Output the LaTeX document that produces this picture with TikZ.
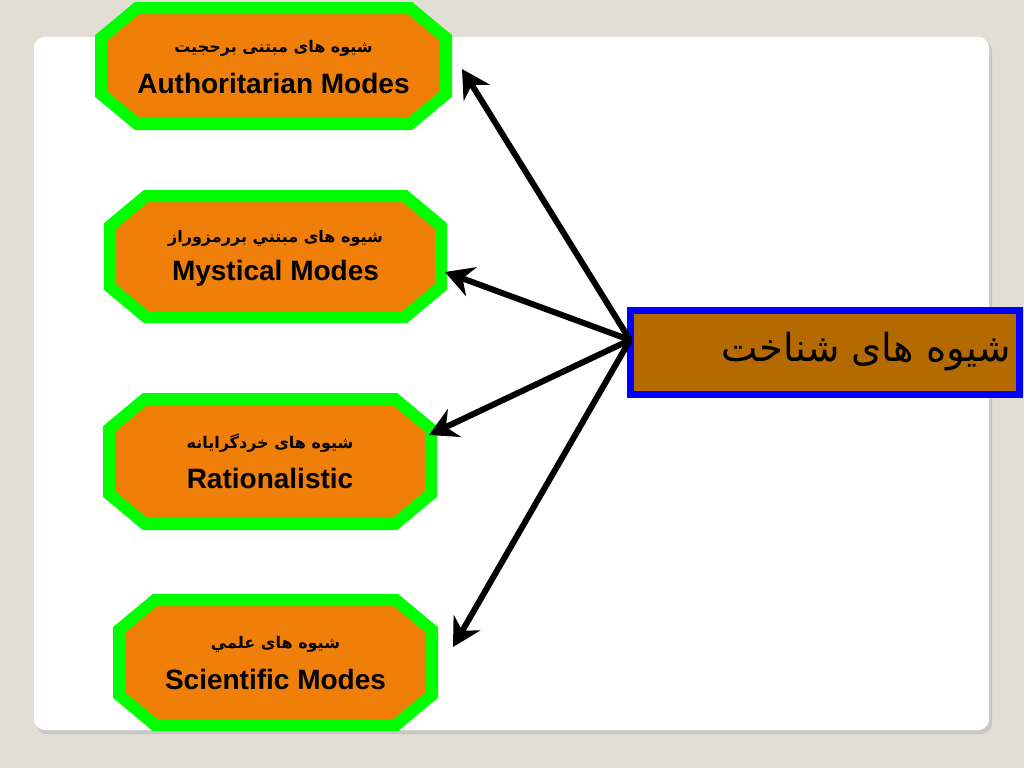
\documentclass[tikz,border=0pt]{standalone}
\usepackage{fontspec}
\setmainfont{Liberation Sans}
\newfontfamily\fa[Script=Arabic]{DejaVu Sans}
\TeXXeTstate=1
\usetikzlibrary{arrows.meta}
\definecolor{bgbeige}{RGB}{226,222,213}
\definecolor{modegreen}{RGB}{0,255,0}
\definecolor{modeorange}{RGB}{240,127,10}
\definecolor{hubbrown}{RGB}{180,106,0}
\definecolor{hubblue}{RGB}{0,0,255}
\tikzset{
  modeshape/.style={draw=modegreen, fill=modeorange, line width=9pt, line join=miter},
  entext/.style={font=\bfseries\fontsize{21}{24}\selectfont, inner sep=0pt},
  fatext/.style={font=\fa\bfseries\fontsize{12}{14}\selectfont, inner sep=0pt},
  hubbox/.style={draw=hubblue, fill=hubbrown, line width=5.25pt, minimum width=291.75pt, minimum height=63pt, inner sep=0pt},
  hubtext/.style={font=\fa\fontsize{29}{34}\selectfont, inner sep=0pt},
  link/.style={line width=4.5pt, -{Stealth[length=21pt, width=23pt, inset=7pt]}},
}
\newcommand\modebox[7]{% name, cx, cy, hw, hh, persian, english
  \pgfmathsetmacro\mbw{#4-6}\pgfmathsetmacro\mbh{#5-6}%
  \draw[modeshape] ({#2-\mbw},{#3-\mbh+30}) -- ({#2-\mbw+36},{#3-\mbh}) -- ({#2+\mbw-36},{#3-\mbh}) -- ({#2+\mbw},{#3-\mbh+30}) -- ({#2+\mbw},{#3+\mbh-30}) -- ({#2+\mbw-36},{#3+\mbh}) -- ({#2-\mbw+36},{#3+\mbh}) -- ({#2-\mbw},{#3+\mbh-30}) -- cycle;
  \node[fatext] (#1fa) at (#2,{#3-18}) {#6};
  \node[entext] (#1) at (#2,{#3+17}) {#7};
}
\begin{document}
\begin{tikzpicture}[x=0.75pt,y=-0.75pt]
\useasboundingbox (0,0) rectangle (1024,768);
\fill[bgbeige] (0,0) rectangle (1024,768);
% panel with shadow
\fill[black!30, opacity=0.5, rounded corners=8pt] (36,40) rectangle (992,734);
\fill[black!20, opacity=0.5, rounded corners=8pt] (35,38) rectangle (991,732);
\fill[white, rounded corners=8pt] (34,37) rectangle (989,730);

\modebox{m1}{273.5}{66}{178.5}{64}{\beginR شیوه های مبتنی برحجیت\endR}{Authoritarian Modes}
\modebox{m2}{275.5}{256.5}{171.5}{66.5}{\beginR شیوه های مبتني بررمزوراز\endR}{Mystical Modes}
\modebox{m3}{270}{461.5}{167}{68.5}{\beginR شیوه های خردگرایانه\endR}{Rationalistic}
\modebox{m4}{275.5}{662.5}{162.5}{68.5}{\beginR شیوه های علمي\endR}{Scientific Modes}

\node[hubbox] (hub) at (825,352.5) {};
\node[hubtext, anchor=east] (hubtxt) at (1011,352) {\beginR شیوه های شناخت\endR};

\coordinate (src) at (630,340);
\coordinate (t1) at (462,69);
\coordinate (t2) at (445,272);
\coordinate (t3) at (429,435);
\coordinate (t4) at (453,647);
\draw[link] (src) -- (t1);
\draw[link] (src) -- (t2);
\draw[link] (src) -- (t3);
\draw[link] (src) -- (t4);
\end{tikzpicture}
\end{document}
